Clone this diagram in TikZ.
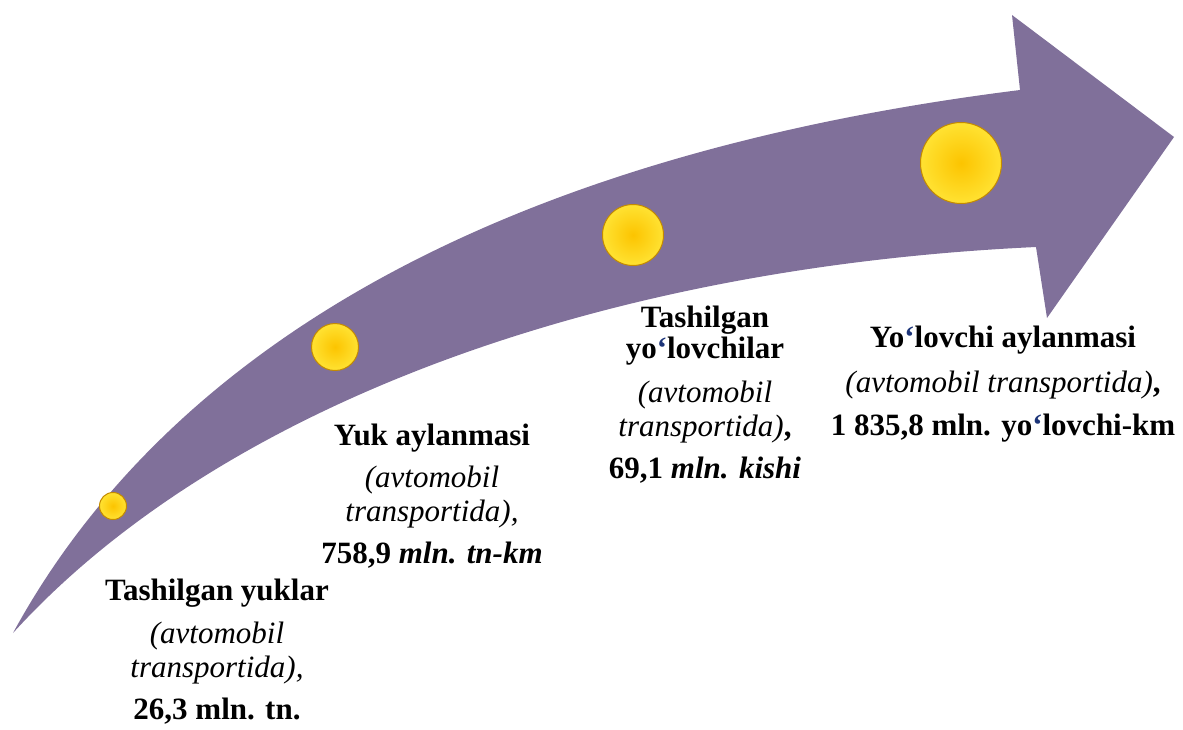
\documentclass[tikz,border=0pt]{standalone}
\usepackage{fontspec}
\setmainfont{Liberation Serif}
\definecolor{trackpurple}{RGB}{128,112,154}
\definecolor{coinlight}{RGB}{255,226,50}
\definecolor{coingold}{RGB}{252,196,0}
\definecolor{coinrim}{RGB}{196,138,0}
\definecolor{okina}{RGB}{28,52,120}
\newcommand{\oq}{{\color{okina}‘}}
\newcommand{\ital}[1]{{\mdseries\itshape #1}}
\tikzset{
	coin/.style={circle,inner sep=0pt,draw=coinrim,line width=1pt,inner color=coingold,outer color=coinlight},
	label block/.style={anchor=north,inner sep=0pt,align=center,font=\fontsize{31}{34}\selectfont\bfseries}
}
\begin{document}
\begin{tikzpicture}[x=1pt,y=-1pt]
		\useasboundingbox (0,0) rectangle (1183,729);
		\fill[trackpurple] (13,633) .. controls (140,400) and (420,165) .. (1020,90) -- (1012,15) -- (1174,137) -- (1047,318) -- (1036,247) .. controls (586,268) and (213,413) .. (13,633) -- cycle;
		\node[coin,minimum size=27pt](c1) at (113,506){};
		\node[coin,minimum size=47pt](c2) at (335,347){};
		\node[coin,minimum size=61pt](c3) at (633,235){};
		\node[coin,minimum size=81pt](c4) at (961,163){};
		\node[label block](t1) at (217,579){Tashilgan yuklar\\[9pt]\ital{(avtomobil}\\\ital{transportida),}\\[8pt]26,3 mln. tn.};
		\node[label block](t2) at (432,424){Yuk aylanmasi\\[8pt]\ital{(avtomobil}\\\ital{transportida),}\\[8pt]758,9 \textit{mln. tn-km}};
		\node[label block](t3) at (705,306){Tashilgan\\[-3pt]yo\oq lovchilar\\[10pt]\ital{(avtomobil}\\\ital{transportida)},\\[8pt]69,1 \textit{mln. kishi}};
		\node[label block](t4) at (1003,326){Yo\oq lovchi aylanmasi\\[11pt]\ital{(avtomobil transportida)},\\[9pt]1 835,8 mln. yo\oq lovchi-km};
		
		\end{tikzpicture}
\end{document}
